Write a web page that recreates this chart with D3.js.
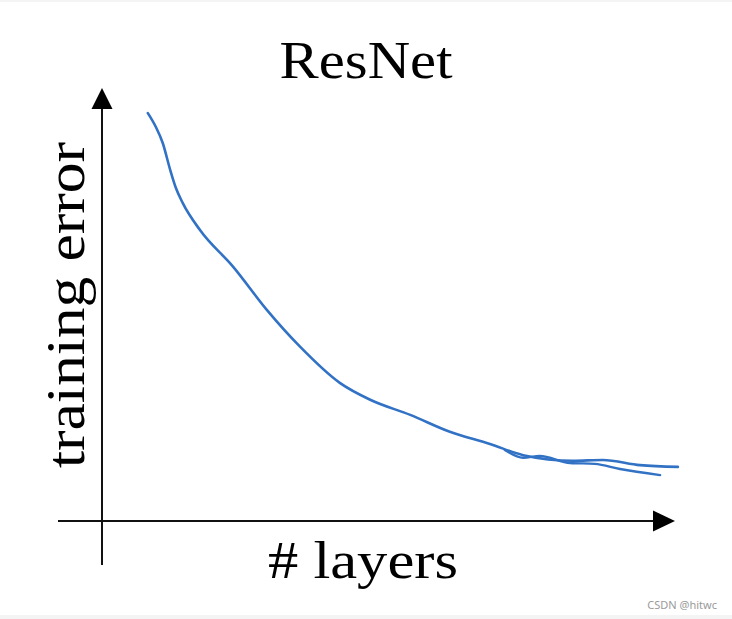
<!DOCTYPE html>
<html>
<head>
<meta charset="utf-8">
<script src="https://cdn.jsdelivr.net/npm/d3@7"></script>
<style>
  body { margin: 0; background: #fff; }
  svg { display: block; }
</style>
</head>
<body>
<div id="chart"></div>
<script>
'use strict';

// sketch values, # layers (0-100) against training error (0-100)
var layers = [8.0, 9.4, 10.6, 11.9, 12.9, 14.1, 17.1, 22.9, 28.8, 34.6, 41.5, 46.8, 53.8, 60.7, 67.7, 73.5, 82.2, 87.4, 93.9, 100.5];
var error  = [94.2, 91.0, 87.3, 81.1, 76.9, 73.4, 67.2, 58.7, 48.7, 40.2, 31.9, 28.0, 24.5, 20.6, 17.8, 15.2, 13.9, 14.1, 12.9, 12.5];

// second pass of the pen near the tail
var layers2 = [70.3, 73.5, 76.4, 81.7, 86.0, 90.4, 97.4];
var error2  = [16.4, 14.6, 15.0, 13.4, 13.2, 12.0, 10.6];

var title = 'ResNet',
    xLabel = '# layers',
    yLabel = 'training error',
    credit = 'CSDN @hitwc';

var width = 732,
    height = 619;

var svg = d3.select('#chart').append('svg')
    .attr('width', width)
    .attr('height', height);

svg.append('rect')
    .attr('width', width).attr('height', height)
    .attr('fill', '#fff');
svg.append('rect')
    .attr('y', 0).attr('width', width).attr('height', 2)
    .attr('fill', '#f4f4f4');
svg.append('rect')
    .attr('y', 615).attr('width', width).attr('height', 4)
    .attr('fill', '#f4f4f4');

var origin = {x: 102, y: 521};

var x = d3.scaleLinear().domain([0, 100]).range([origin.x, 675]);
var y = d3.scaleLinear().domain([0, 100]).range([origin.y, 88]);

var ink = '#111';

// axes drawn as arrows, no ticks
var axes = svg.append('g').attr('class', 'axes');

axes.append('line')
    .attr('x1', 58).attr('y1', origin.y)
    .attr('x2', x(100) - 20).attr('y2', origin.y)
    .attr('stroke', ink).attr('stroke-width', 2);
axes.append('path')
    .attr('d', 'M' + x(100) + ',' + origin.y + 'L' + (x(100) - 22) + ',' + (origin.y - 10.5) + 'L' + (x(100) - 22) + ',' + (origin.y + 10.5) + 'Z')
    .attr('fill', '#000');

axes.append('line')
    .attr('x1', origin.x).attr('y1', 565)
    .attr('x2', origin.x).attr('y2', y(100) + 20)
    .attr('stroke', ink).attr('stroke-width', 2);
axes.append('path')
    .attr('d', 'M' + origin.x + ',' + y(100) + 'L' + (origin.x - 10.5) + ',' + (y(100) + 21) + 'L' + (origin.x + 10.5) + ',' + (y(100) + 21) + 'Z')
    .attr('fill', '#000');

var line = d3.line()
    .x(function (d) { return x(d[0]); })
    .y(function (d) { return y(d[1]); })
    .curve(d3.curveMonotoneX);

svg.append('path')
    .datum(d3.zip(layers, error))
    .attr('d', line)
    .attr('fill', 'none')
    .attr('stroke', '#3272c5')
    .attr('stroke-width', 2.6)
    .attr('stroke-linecap', 'round');

svg.append('path')
    .datum(d3.zip(layers2, error2))
    .attr('d', line)
    .attr('fill', 'none')
    .attr('stroke', '#3272c5')
    .attr('stroke-width', 2.4)
    .attr('stroke-linecap', 'round');

var serif = '"Liberation Serif", "DejaVu Serif", serif';

svg.append('text')
    .attr('x', 366).attr('y', 78)
    .attr('text-anchor', 'middle')
    .attr('font-family', serif)
    .attr('font-size', 52)
    .attr('textLength', 173)
    .attr('lengthAdjust', 'spacingAndGlyphs')
    .attr('fill', '#000')
    .text(title);

svg.append('text')
    .attr('x', 363).attr('y', 578)
    .attr('text-anchor', 'middle')
    .attr('font-family', serif)
    .attr('font-size', 53)
    .attr('textLength', 190)
    .attr('lengthAdjust', 'spacingAndGlyphs')
    .attr('fill', '#000')
    .text(xLabel);

svg.append('text')
    .attr('transform', 'translate(84,305) rotate(-90)')
    .attr('text-anchor', 'middle')
    .attr('font-family', serif)
    .attr('font-size', 55)
    .attr('textLength', 326)
    .attr('lengthAdjust', 'spacingAndGlyphs')
    .attr('fill', '#000')
    .text(yLabel);

svg.append('text')
    .attr('x', 717).attr('y', 609)
    .attr('text-anchor', 'end')
    .attr('font-family', '"Noto Sans", sans-serif')
    .attr('font-size', 11)
    .attr('fill', '#9a9a9a')
    .text(credit);
</script>
</body>
</html>
